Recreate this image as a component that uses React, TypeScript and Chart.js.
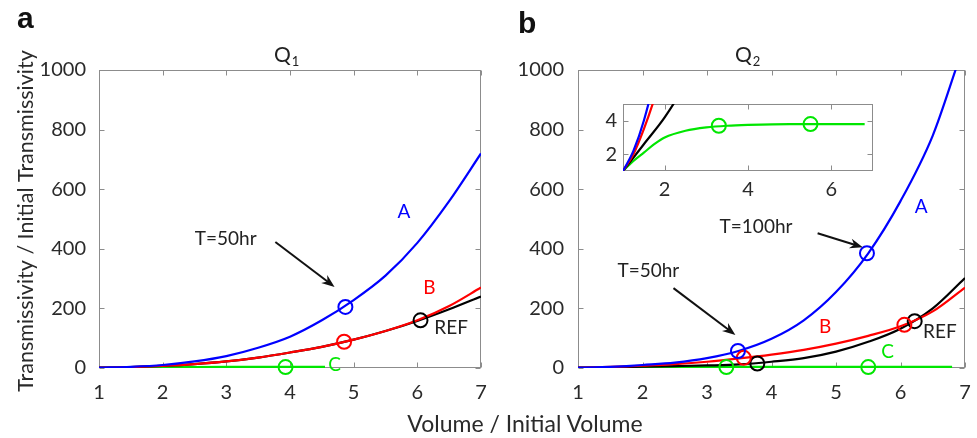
import React, { useEffect, useRef } from "react";
import { Chart, registerables } from "chart.js";

Chart.register(...registerables);

// ---------- axis ticks ----------
const X_TICKS = [1, 2, 3, 4, 5, 6, 7];
const Y_TICKS = [0, 200, 400, 600, 800, 1000];
const INSET_X_TICKS = [2, 4, 6];
const INSET_Y_TICKS = [2, 4];

// ---------- panel a (Q1) ----------
const A_BLUE_X = [1, 1.5, 2, 2.5, 3, 3.5, 4, 4.5, 5, 5.5, 6, 6.5, 7];
const A_BLUE_Y = [1, 4, 10, 22, 40, 68, 105, 160, 228, 310, 420, 560, 720];
const A_RED_X = [1, 1.5, 2, 2.5, 3, 3.5, 4, 4.5, 5, 5.5, 6, 6.5, 7];
const A_RED_Y = [1, 3, 7, 13, 22, 35, 52, 71, 95, 124, 160, 208, 270];
const A_REF_X = [1, 1.5, 2, 2.5, 3, 3.5, 4, 4.5, 5, 5.5, 6, 6.5, 7];
const A_REF_Y = [1, 3, 7, 13, 22, 35, 52, 71, 95, 124, 158, 197, 240];
const A_GREEN_X = [1, 1.5, 2, 2.5, 3, 3.5, 4, 4.55];
const A_GREEN_Y = [1, 2, 3, 3.3, 3.5, 3.6, 3.6, 3.6];
// markers (T = 50 hr)
const A_MARK_BLUE_X = [4.87];
const A_MARK_BLUE_Y = [205];
const A_MARK_RED_X = [4.85];
const A_MARK_RED_Y = [88];
const A_MARK_REF_X = [6.05];
const A_MARK_REF_Y = [160];
const A_MARK_GREEN_X = [3.93];
const A_MARK_GREEN_Y = [3];

// ---------- panel b (Q2) ----------
const B_BLUE_X = [1, 1.25, 1.5, 1.75, 2, 2.5, 3, 3.5, 4, 4.5, 5, 5.5, 6, 6.5, 6.9];
const B_BLUE_Y = [1, 2.2, 4, 6.5, 10, 18, 33, 58, 98, 160, 255, 385, 560, 780, 1030];
const B_RED_X = [1, 1.25, 1.5, 1.75, 2, 2.5, 3, 3.5, 4, 4.5, 5, 5.5, 6, 6.5, 7];
const B_RED_Y = [1, 2, 3.5, 5.3, 7.5, 13, 21, 32, 45, 61, 82, 108, 140, 190, 270];
const B_REF_X = [1, 1.5, 2, 2.5, 3, 3.5, 4, 4.5, 5, 5.5, 6, 6.5, 7];
const B_REF_Y = [1, 2.6, 4.2, 6.2, 8.5, 12, 21, 33, 55, 88, 132, 200, 302];
const B_GREEN_X = [1, 1.25, 1.5, 1.75, 2, 2.5, 3, 3.5, 4, 5, 6, 6.8];
const B_GREEN_Y = [1, 1.6, 2.1, 2.6, 3.0, 3.4, 3.6, 3.7, 3.75, 3.8, 3.8, 3.8];
// markers (T = 50 hr, T = 100 hr)
const B_MARK_BLUE_X = [3.48, 5.48];
const B_MARK_BLUE_Y = [57, 385];
const B_MARK_RED_X = [3.57, 6.06];
const B_MARK_RED_Y = [34, 145];
const B_MARK_REF_X = [3.78, 6.22];
const B_MARK_REF_Y = [15, 157];
const B_MARK_GREEN_X = [3.3, 5.5];
const B_MARK_GREEN_Y = [3, 3];
const INSET_MARK_GREEN_Y = [3.7, 3.8];

// ---------- styles ----------
const BLUE = "#0000ff";
const RED = "#ff0000";
const BLACK = "#000000";
const GREEN = "#00e600";
const TEXT = "#2a2a2a";
const FRAME = "#8c8c8c";
const FONT = "Lato, 'Open Sans', sans-serif";

const pts = (xs: number[], ys: number[]) => xs.map((x, i) => ({ x, y: ys[i] }));

function lineDs(xs: number[], ys: number[], color: string) {
  return {
    type: "line" as const,
    data: pts(xs, ys),
    borderColor: color,
    backgroundColor: color,
    borderWidth: 2.2,
    pointRadius: 0,
    cubicInterpolationMode: "monotone" as const,
    fill: false,
  };
}

function markDs(xs: number[], ys: number[], color: string) {
  return {
    type: "scatter" as const,
    data: pts(xs, ys),
    borderColor: color,
    backgroundColor: "rgba(0,0,0,0)",
    pointBorderColor: color,
    pointBackgroundColor: "rgba(0,0,0,0)",
    pointRadius: 7,
    pointBorderWidth: 2,
    pointStyle: "circle",
    showLine: false,
    clip: false as const,
  };
}

// frame + inward ticks (MATLAB style box)
const framePlugin = {
  id: "frame",
  beforeDatasetsDraw(chart: any, _args: any, opts: any) {
    const { ctx, chartArea: a, scales } = chart;
    ctx.save();
    ctx.fillStyle = "#ffffff";
    ctx.fillRect(a.left, a.top, a.right - a.left, a.bottom - a.top);
    ctx.strokeStyle = FRAME;
    ctx.lineWidth = 1;
    const L = Math.round(a.left) + 0.5;
    const R = Math.round(a.right) - 0.5;
    const T = Math.round(a.top) + 0.5;
    const B = Math.round(a.bottom) - 0.5;
    ctx.strokeRect(L, T, R - L, B - T);
    const len = opts.len || 5;
    ctx.beginPath();
    for (const t of scales.x.ticks) {
      const px = Math.round(scales.x.getPixelForValue(t.value)) + 0.5;
      ctx.moveTo(px, B);
      ctx.lineTo(px, B - len);
      ctx.moveTo(px, T);
      ctx.lineTo(px, T + len);
    }
    for (const t of scales.y.ticks) {
      const py = Math.round(scales.y.getPixelForValue(t.value)) + 0.5;
      ctx.moveTo(L, py);
      ctx.lineTo(L + len, py);
      ctx.moveTo(R, py);
      ctx.lineTo(R - len, py);
    }
    ctx.stroke();
    ctx.restore();
  },
};

// annotations: data-positioned text and arrows, plus fixed labels
const annotPlugin = {
  id: "annot",
  afterDatasetsDraw(chart: any, _args: any, opts: any) {
    const { ctx, scales } = chart;
    const xs = scales.x;
    const ys = scales.y;
    ctx.save();
    for (const ar of opts.arrows || []) {
      const x1 = xs.getPixelForValue(ar.x1);
      const y1 = ys.getPixelForValue(ar.y1);
      const x2 = xs.getPixelForValue(ar.x2);
      const y2 = ys.getPixelForValue(ar.y2);
      const ang = Math.atan2(y2 - y1, x2 - x1);
      const hl = 13;
      const hw = 5;
      const bx = x2 - hl * Math.cos(ang);
      const by = y2 - hl * Math.sin(ang);
      ctx.strokeStyle = "#111";
      ctx.fillStyle = "#111";
      ctx.lineWidth = 2;
      ctx.beginPath();
      ctx.moveTo(x1, y1);
      ctx.lineTo(x2 - 6 * Math.cos(ang), y2 - 6 * Math.sin(ang));
      ctx.stroke();
      ctx.beginPath();
      ctx.moveTo(x2, y2);
      ctx.lineTo(bx + hw * Math.sin(ang), by - hw * Math.cos(ang));
      ctx.lineTo(x2 - 9 * Math.cos(ang), y2 - 9 * Math.sin(ang));
      ctx.lineTo(bx - hw * Math.sin(ang), by + hw * Math.cos(ang));
      ctx.closePath();
      ctx.fill();
    }
    ctx.textAlign = "center";
    ctx.textBaseline = "middle";
    for (const t of opts.texts || []) {
      ctx.font = `19px ${FONT}`;
      ctx.fillStyle = t.color;
      ctx.fillText(t.text, xs.getPixelForValue(t.x), ys.getPixelForValue(t.y));
    }
    ctx.restore();
  },
  afterDraw(chart: any, _args: any, opts: any) {
    const { ctx } = chart;
    ctx.save();
    if (opts.letter) {
      ctx.font = `bold 30px 'Liberation Sans', Arial, sans-serif`;
      ctx.fillStyle = "#111";
      ctx.textAlign = "left";
      ctx.textBaseline = "alphabetic";
      ctx.fillText(opts.letter.text, opts.letter.x, opts.letter.y);
    }
    if (opts.title) {
      ctx.fillStyle = "#222";
      ctx.textAlign = "left";
      ctx.textBaseline = "alphabetic";
      ctx.font = `21px ${FONT}`;
      ctx.fillText("Q", opts.title.x, 62);
      const w = ctx.measureText("Q").width;
      ctx.font = `13px ${FONT}`;
      ctx.fillText(opts.title.sub, opts.title.x + w + 1, 66);
    }
    if (opts.ylabel) {
      ctx.translate(26, 221);
      ctx.rotate(-Math.PI / 2);
      ctx.font = `21.5px ${FONT}`;
      ctx.fillStyle = TEXT;
      ctx.textAlign = "center";
      ctx.textBaseline = "middle";
      ctx.fillText(opts.ylabel, 0, 0);
    }
    ctx.restore();
  },
};

function scaleOpts(
  min: number,
  max: number,
  ticks: number[],
  axis: "x" | "y",
  size: number,
  pad: number
) {
  return {
    type: "linear" as const,
    min,
    max,
    afterBuildTicks: (s: any) => {
      s.ticks = ticks.map((v) => ({ value: v }));
    },
    afterFit: (s: any) => {
      if (axis === "x") s.height = size;
      else s.width = size;
      s.paddingLeft = 0;
      s.paddingRight = 0;
      s.paddingTop = 0;
      s.paddingBottom = 0;
    },
    grid: { display: false, drawTicks: false },
    border: { display: false },
    ticks: {
      font: { family: FONT, size: 20 },
      color: TEXT,
      padding: pad,
      maxRotation: 0,
      autoSkip: false,
      callback: (v: any) => String(v),
    },
  };
}

function baseOptions(padding: any, annot: any) {
  return {
    responsive: false,
    animation: false as const,
    devicePixelRatio: 1,
    events: [] as any[],
    layout: { padding },
    plugins: {
      legend: { display: false },
      tooltip: { enabled: false },
      title: { display: false },
      frame: { len: 5 },
      annot,
    },
  };
}

const configA: any = {
  type: "line",
  data: {
    datasets: [
      markDs(A_MARK_BLUE_X, A_MARK_BLUE_Y, BLUE),
      markDs(A_MARK_RED_X, A_MARK_RED_Y, RED),
      markDs(A_MARK_REF_X, A_MARK_REF_Y, BLACK),
      markDs(A_MARK_GREEN_X, A_MARK_GREEN_Y, GREEN),
      lineDs(A_BLUE_X, A_BLUE_Y, BLUE),
      lineDs(A_RED_X, A_RED_Y, RED),
      lineDs(A_REF_X, A_REF_Y, BLACK),
      lineDs(A_GREEN_X, A_GREEN_Y, GREEN),
    ],
  },
  options: {
    ...baseOptions(
      { left: 39, top: 70, right: 5, bottom: 30 },
      {
        letter: { text: "a", x: 17, y: 28 },
        title: { x: 274, sub: "1" },
        ylabel: "Transmissivity / Initial Transmissivity",
        texts: [
          { x: 5.79, y: 523, text: "A", color: BLUE },
          { x: 6.19, y: 268, text: "B", color: RED },
          { x: 6.53, y: 134, text: "REF", color: "#222" },
          { x: 4.7, y: 10, text: "C", color: GREEN },
          { x: 2.99, y: 433, text: "T=50hr", color: "#222" },
        ],
        arrows: [{ x1: 3.77, y1: 423, x2: 4.7, y2: 272 }],
      }
    ),
    scales: {
      x: scaleOpts(1, 7, X_TICKS, "x", 40, 13),
      y: scaleOpts(0, 1000, Y_TICKS, "y", 60, 13),
    },
  },
  plugins: [framePlugin, annotPlugin],
};

const configB: any = {
  type: "line",
  data: {
    datasets: [
      markDs(B_MARK_BLUE_X, B_MARK_BLUE_Y, BLUE),
      markDs(B_MARK_RED_X, B_MARK_RED_Y, RED),
      markDs(B_MARK_REF_X, B_MARK_REF_Y, BLACK),
      markDs(B_MARK_GREEN_X, B_MARK_GREEN_Y, GREEN),
      lineDs(B_BLUE_X, B_BLUE_Y, BLUE),
      lineDs(B_RED_X, B_RED_Y, RED),
      lineDs(B_REF_X, B_REF_Y, BLACK),
      lineDs(B_GREEN_X, B_GREEN_Y, GREEN),
    ],
  },
  options: {
    ...baseOptions(
      { left: 28, top: 70, right: 12, bottom: 30 },
      {
        letter: { text: "b", x: 28, y: 33 },
        title: { x: 245, sub: "2" },
        texts: [
          { x: 6.32, y: 541, text: "A", color: BLUE },
          { x: 4.83, y: 139, text: "B", color: RED },
          { x: 6.61, y: 122, text: "REF", color: "#222" },
          { x: 5.8, y: 55, text: "C", color: GREEN },
          { x: 3.76, y: 473, text: "T=100hr", color: "#222" },
          { x: 2.09, y: 326, text: "T=50hr", color: "#222" },
        ],
        arrows: [
          { x1: 4.715, y1: 452, x2: 5.415, y2: 405 },
          { x1: 2.48, y1: 268, x2: 3.44, y2: 111 },
        ],
      }
    ),
    scales: {
      x: scaleOpts(1, 7, X_TICKS, "x", 40, 13),
      y: scaleOpts(0, 1000, Y_TICKS, "y", 60, 14),
    },
  },
  plugins: [framePlugin, annotPlugin],
};

const configI: any = {
  type: "line",
  data: {
    datasets: [
      markDs(B_MARK_GREEN_X, INSET_MARK_GREEN_Y, GREEN),
      lineDs(B_BLUE_X, B_BLUE_Y, BLUE),
      lineDs(B_RED_X, B_RED_Y, RED),
      lineDs(B_REF_X, B_REF_Y, BLACK),
      lineDs(B_GREEN_X, B_GREEN_Y, GREEN),
    ],
  },
  options: {
    ...baseOptions({ left: 8, top: 9, right: 12, bottom: 4 }, {}),
    scales: {
      x: scaleOpts(1, 7, INSET_X_TICKS, "x", 25, 7),
      y: scaleOpts(1, 5, INSET_Y_TICKS, "y", 30, 6),
    },
  },
  plugins: [framePlugin, annotPlugin],
};

export default function App() {
  const refA = useRef<HTMLCanvasElement>(null);
  const refB = useRef<HTMLCanvasElement>(null);
  const refI = useRef<HTMLCanvasElement>(null);

  useEffect(() => {
    const charts = [
      new Chart(refA.current as HTMLCanvasElement, configA),
      new Chart(refB.current as HTMLCanvasElement, configB),
      new Chart(refI.current as HTMLCanvasElement, configI),
    ];
    return () => charts.forEach((c) => c.destroy());
  }, []);

  return (
    <div
      style={{
        position: "absolute",
        left: 0,
        top: 0,
        width: 977,
        height: 438,
        background: "#ffffff",
        overflow: "hidden",
      }}
    >
      <canvas ref={refA} width={490} height={438} style={{ position: "absolute", left: 0, top: 0 }} />
      <canvas ref={refB} width={487} height={438} style={{ position: "absolute", left: 490, top: 0 }} />
      <canvas ref={refI} width={300} height={105} style={{ position: "absolute", left: 585, top: 95 }} />
      <div
        style={{
          position: "absolute",
          left: 325,
          width: 400,
          top: 409,
          lineHeight: "28px",
          textAlign: "center",
          fontFamily: FONT,
          fontSize: 23,
          color: TEXT,
        }}
      >
        Volume / Initial Volume
      </div>
    </div>
  );
}
